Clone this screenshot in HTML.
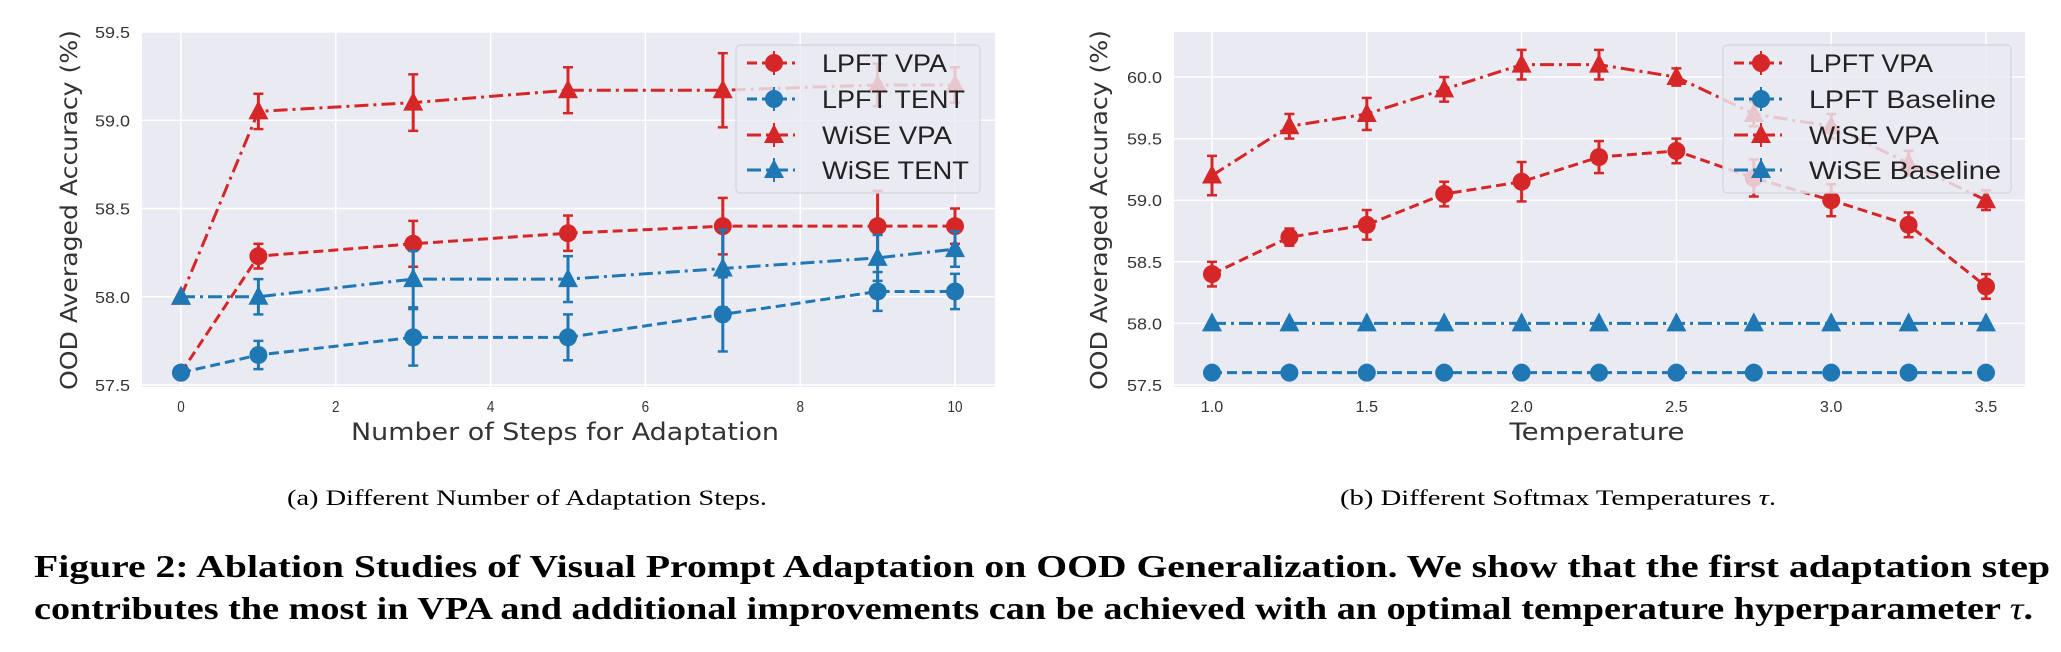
<!DOCTYPE html>
<html><head><meta charset="utf-8"><style>
html,body{margin:0;padding:0;background:#fff;}
svg{display:block;}
</style></head><body>
<svg id="fig" width="2061" height="652" viewBox="0 0 2061 652" xmlns="http://www.w3.org/2000/svg">
  <text x="527" y="505" text-anchor="middle" font-family="Liberation Serif, serif" font-size="22" textLength="480" lengthAdjust="spacingAndGlyphs">(a)  Different Number of Adaptation Steps.</text>
  <text x="1558" y="505" text-anchor="middle" font-family="Liberation Serif, serif" font-size="22" textLength="436" lengthAdjust="spacingAndGlyphs">(b)  Different Softmax Temperatures <tspan font-style="italic">τ</tspan>.</text>
  <text x="34" y="577" font-family="Liberation Serif, serif" font-weight="bold" font-size="32" textLength="2016" lengthAdjust="spacingAndGlyphs">Figure 2: Ablation Studies of Visual Prompt Adaptation on OOD Generalization. We show that the first adaptation step</text>
  <text x="34" y="619" font-family="Liberation Serif, serif" font-weight="bold" font-size="32" textLength="1999" lengthAdjust="spacingAndGlyphs">contributes the most in VPA and additional improvements can be achieved with an optimal temperature hyperparameter <tspan font-style="italic" font-weight="normal">τ</tspan>.</text>
</svg>
<script>
// ---- Chart A data ----
const stepsX = [0, 1, 3, 5, 7, 9, 10];
const aLpftVpa = [57.57, 58.23, 58.30, 58.36, 58.40, 58.40, 58.40];
const aLpftVpaErr = [0, 0.07, 0.13, 0.10, 0.16, 0.20, 0.10];
const aLpftTent = [57.57, 57.67, 57.77, 57.77, 57.90, 58.03, 58.03];
const aLpftTentErr = [0, 0.08, 0.16, 0.13, 0.21, 0.11, 0.10];
const aWiseVpa = [58.00, 59.05, 59.10, 59.17, 59.17, 59.20, 59.20];
const aWiseVpaErr = [0, 0.10, 0.16, 0.13, 0.21, 0.12, 0.10];
const aWiseTent = [58.00, 58.00, 58.10, 58.10, 58.16, 58.22, 58.27];
const aWiseTentErr = [0, 0.10, 0.16, 0.13, 0.22, 0.13, 0.10];
const aXTicks = [0, 2, 4, 6, 8, 10];
const aYTicks = [57.5, 58.0, 58.5, 59.0, 59.5];
const aLegend = ["LPFT VPA", "LPFT TENT", "WiSE VPA", "WiSE TENT"];
// ---- Chart B data ----
const tempX = [1.0, 1.25, 1.5, 1.75, 2.0, 2.25, 2.5, 2.75, 3.0, 3.25, 3.5];
const bLpftVpa = [58.40, 58.70, 58.80, 59.05, 59.15, 59.35, 59.40, 59.18, 59.00, 58.80, 58.30];
const bLpftVpaErr = [0.10, 0.07, 0.12, 0.10, 0.16, 0.13, 0.10, 0.15, 0.13, 0.10, 0.10];
const bLpftBase = [57.6, 57.6, 57.6, 57.6, 57.6, 57.6, 57.6, 57.6, 57.6, 57.6, 57.6];
const bWiseVpa = [59.20, 59.60, 59.70, 59.90, 60.10, 60.10, 60.00, 59.70, 59.60, 59.30, 59.00];
const bWiseVpaErr = [0.16, 0.10, 0.13, 0.10, 0.12, 0.12, 0.07, 0.10, 0.10, 0.10, 0.08];
const bWiseBase = [58.0, 58.0, 58.0, 58.0, 58.0, 58.0, 58.0, 58.0, 58.0, 58.0, 58.0];
const bXTicks = [1.0, 1.5, 2.0, 2.5, 3.0, 3.5];
const bYTicks = [57.5, 58.0, 58.5, 59.0, 59.5, 60.0];
const bLegend = ["LPFT VPA", "LPFT Baseline", "WiSE VPA", "WiSE Baseline"];

const NS = "http://www.w3.org/2000/svg";
const svg = document.getElementById('fig');
const RED = "#d62728", BLUE = "#1f77b4";
function mk(tag, attrs, parent) {
  const e = document.createElementNS(NS, tag);
  for (const k in attrs) e.setAttribute(k, attrs[k]);
  (parent || svg).appendChild(e);
  return e;
}
function marker(g, kind, cx, cy, color) {
  let m;
  if (kind === 'o') m = mk('circle', {cx: cx, cy: cy, r: 9, fill: color}, g);
  else m = mk('polygon', {points: `${cx},${cy-11} ${cx+10},${cy+8} ${cx-10},${cy+8}`, fill: color}, g);
  return m;
}
function drawChart(cfg) {
  const g = mk('g', {});
  
  
  const sx = v => cfg.x0 + (v - cfg.xmin) / (cfg.xmax - cfg.xmin) * (cfg.x1 - cfg.x0);
  const sy = v => cfg.y1 - (v - cfg.ymin) / (cfg.ymax - cfg.ymin) * (cfg.y1 - cfg.y0);
  const bg = mk('rect', {x: cfg.L, y: cfg.T, width: cfg.R - cfg.L, height: cfg.B - cfg.T, fill: '#eaeaf2'}, g);
  
  
  cfg.xTicks.forEach(t => {
    const l = mk('line', {x1: sx(t), x2: sx(t), y1: cfg.T, y2: cfg.B, stroke: '#fff', 'stroke-width': 1.5}, g);
    
    
    const tx = mk('text', {x: sx(t), y: 412, 'text-anchor': 'middle', 'font-family': 'Liberation Sans, sans-serif', 'font-size': 16, fill: '#333', textLength: cfg.xLabel(t).length * 7.5, lengthAdjust: 'spacingAndGlyphs'}, g);
    tx.textContent = cfg.xLabel(t);
    
    
  });
  cfg.yTicks.forEach(t => {
    const l = mk('line', {x1: cfg.L, x2: cfg.R, y1: sy(t), y2: sy(t), stroke: '#fff', 'stroke-width': 1.5}, g);
    
    
    const tx = mk('text', {x: cfg.L - 12, y: sy(t) + 6, 'text-anchor': 'end', 'font-family': 'Liberation Sans, sans-serif', 'font-size': 16, fill: '#333', textLength: 35, lengthAdjust: 'spacingAndGlyphs'}, g);
    tx.textContent = t.toFixed(1);
    
    
  });
  const yt = mk('text', {x: 0, y: 0, transform: `translate(${cfg.ytX},210) rotate(-90)`, 'text-anchor': 'middle', 'font-family': 'DejaVu Sans, sans-serif', 'font-size': 23, fill: '#333', textLength: 360, lengthAdjust: 'spacingAndGlyphs'}, g);
  yt.textContent = 'OOD Averaged Accuracy (%)';
  
  
  const xt = mk('text', {x: cfg.xtX, y: 440, 'text-anchor': 'middle', 'font-family': 'DejaVu Sans, sans-serif', 'font-size': 24, fill: '#333', textLength: cfg.xtW, lengthAdjust: 'spacingAndGlyphs'}, g);
  xt.textContent = cfg.xTitle;
  
  

  cfg.series.forEach(s => {
    const sg = mk('g', {}, g);
    
    
    const pts = cfg.xs.map((x, i) => sx(x) + ',' + sy(s.ys[i])).join(' ');
    mk('polyline', {points: pts, fill: 'none', stroke: s.color, 'stroke-width': 3, 'stroke-dasharray': s.dash}, sg);
    cfg.xs.forEach((x, i) => {
      const e = s.err ? s.err[i] : 0;
      if (e > 0) {
        const cx = sx(x), ya = sy(s.ys[i] + e), yb = sy(s.ys[i] - e);
        mk('line', {x1: cx, x2: cx, y1: ya, y2: yb, stroke: s.color, 'stroke-width': 3}, sg);
        mk('line', {x1: cx - 5, x2: cx + 5, y1: ya, y2: ya, stroke: s.color, 'stroke-width': 2.5}, sg);
        mk('line', {x1: cx - 5, x2: cx + 5, y1: yb, y2: yb, stroke: s.color, 'stroke-width': 2.5}, sg);
      }
      const m = marker(sg, s.marker, sx(x), sy(s.ys[i]), s.color);
      
      
    });
  });
  // legend
  const lg = mk('g', {}, g);
  
  
  mk('rect', {x: cfg.lgX, y: 45, width: cfg.lgW, height: 148, rx: 4, fill: '#eaeaf2', 'fill-opacity': 0.82, stroke: '#d4d4dc', 'stroke-width': 1.2}, lg);
  cfg.series.forEach((s, i) => {
    const ey = [63, 99, 135, 170][i];
    const eg = mk('g', {}, lg);
    
    
    mk('line', {x1: cfg.lgX + 11, x2: cfg.lgX + 59, y1: ey, y2: ey, stroke: s.color, 'stroke-width': 3, 'stroke-dasharray': s.dash}, eg);
    mk('line', {x1: cfg.lgX + 38, x2: cfg.lgX + 38, y1: ey - 12, y2: ey + 12, stroke: s.color, 'stroke-width': 2}, eg);
    marker(eg, s.marker, cfg.lgX + 38, ey, s.color);
    const t = mk('text', {x: cfg.lgX + 86, y: ey + 9, 'font-family': 'Liberation Sans, sans-serif', 'font-size': 25, fill: '#222', textLength: cfg.lgTW[i], lengthAdjust: 'spacingAndGlyphs'}, eg);
    t.textContent = cfg.legend[i];
  });
}

drawChart({
  name: 'chart-adaptation-steps', L: 142, R: 995, T: 32, B: 387,
  xmin: 0, xmax: 10, x0: 181, x1: 955, ymin: 57.5, ymax: 59.5, y0: 32, y1: 385,
  xs: stepsX, xTicks: aXTicks, yTicks: aYTicks, xLabel: t => String(t),
  ytX: 77, xtX: 565, xtW: 428, xTitle: 'Number of Steps for Adaptation',
  lgX: 736, lgW: 244, lgTW: [125, 143, 130, 147], legend: aLegend,
  series: [
    {name: 'series-lpft-vpa', ys: aLpftVpa, err: aLpftVpaErr, color: RED, dash: '10 5', marker: 'o'},
    {name: 'series-lpft-tent', ys: aLpftTent, err: aLpftTentErr, color: BLUE, dash: '10 5', marker: 'o'},
    {name: 'series-wise-vpa', ys: aWiseVpa, err: aWiseVpaErr, color: RED, dash: '14 5 3 5', marker: '^'},
    {name: 'series-wise-tent', ys: aWiseTent, err: aWiseTentErr, color: BLUE, dash: '14 5 3 5', marker: '^'}
  ]
});
drawChart({
  name: 'chart-temperature', L: 1174, R: 2025, T: 32, B: 387,
  xmin: 1.0, xmax: 3.5, x0: 1212, x1: 1986, ymin: 57.5, ymax: 60.0, y0: 77, y1: 385,
  xs: tempX, xTicks: bXTicks, yTicks: bYTicks, xLabel: t => t.toFixed(1),
  ytX: 1107, xtX: 1597, xtW: 175, xTitle: 'Temperature',
  lgX: 1723, lgW: 288, lgTW: [124, 187, 130, 192], legend: bLegend,
  series: [
    {name: 'series-lpft-vpa', ys: bLpftVpa, err: bLpftVpaErr, color: RED, dash: '10 5', marker: 'o'},
    {name: 'series-lpft-baseline', ys: bLpftBase, err: null, color: BLUE, dash: '10 5', marker: 'o'},
    {name: 'series-wise-vpa', ys: bWiseVpa, err: bWiseVpaErr, color: RED, dash: '14 5 3 5', marker: '^'},
    {name: 'series-wise-baseline', ys: bWiseBase, err: null, color: BLUE, dash: '14 5 3 5', marker: '^'}
  ]
});
</script>
</body></html>
